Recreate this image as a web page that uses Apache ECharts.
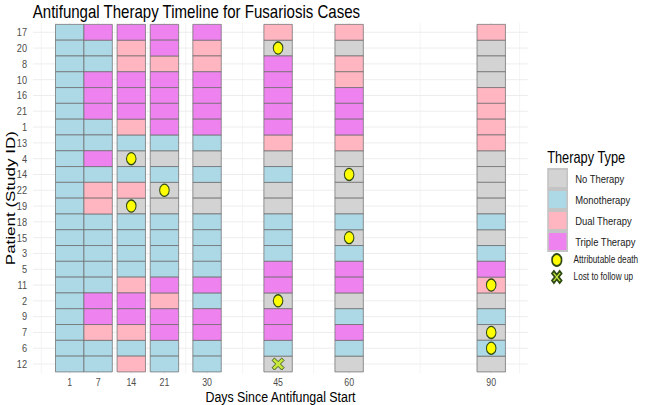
<!DOCTYPE html>
<html>
<head>
<meta charset="utf-8">
<script src="https://cdn.jsdelivr.net/npm/echarts@6/dist/echarts.min.js"></script>
<style>
  html, body { margin: 0; padding: 0; background: #fff; overflow: hidden; }
  /* the reference image is squeezed horizontally, so draw wider and squeeze */
  #chart { width: 812.5px; height: 405px; transform: scaleX(0.8); transform-origin: 0 0; }
</style>
</head>
<body>
<div id="chart"></div>
<script>
// patients, top to bottom
var patients = ['17','20','8','10','16','21','1','13','4','14','22','19','18','15','3','5','11','2','9','7','6','12'];
var days = [1, 7, 14, 21, 30, 45, 60, 90];
var therapyTypes = ['No Therapy', 'Monotherapy', 'Dual Therapy', 'Triple Therapy'];
var therapyCodes = ['N', 'M', 'D', 'T'];
var therapyColors = ['#D3D3D3', '#ADD8E6', '#FFB6C1', '#EE82EE'];

// one code per patient (same order as patients)
var day1  = 'M M M M M M M M M M M M M M M M M M M M M M'.split(' ');
var day7  = 'T M M T T T M M T M D D M M M M M T T D M M'.split(' ');
var day14 = 'T D D T T T D M N M D N M M M M D T T D M D'.split(' ');
var day21 = 'T T D T T T T M N M N N M M M M T D T T M M'.split(' ');
var day30 = 'T D D T T T T M N M N N M M M M T M T T M M'.split(' ');
var day45 = 'D N T T T T T D N M N N M M M T T N T T M N'.split(' ');
var day60 = 'D N D D T T T D N N N N M N M T T N M T M N'.split(' ');
var day90 = 'D N N N D D D D N N N N M N M T D N M N M N'.split(' ');
var therapyByDay = [day1, day7, day14, day21, day30, day45, day60, day90];

// events: [day, patient]
var deaths = [[14,'4'], [21,'22'], [14,'19'], [45,'20'], [60,'14'], [60,'15'], [45,'2'], [90,'11'], [90,'7'], [90,'6']];
var lost = [[45,'12']];

var tileHalf = 3;
var xMin = -6.75, xMax = 97.75;
var yMin = -0.6, yMax = 21.6;

// minor breaks like ggplot: midpoints, with one extra step at each end
var ext = [days[0] - (days[1] - days[0])].concat(days, [days[days.length-1] + (days[1] - days[0])]);
var minorBreaks = [];
for (var i = 0; i < ext.length; i++) {
    minorBreaks.push(ext[i]);
    if (i < ext.length - 1) minorBreaks.push((ext[i] + ext[i+1]) / 2);
}

var myChart = echarts.init(document.getElementById('chart'), null, { renderer: 'svg' });

function renderTile(params, api) {
    var x = api.value(0), y = api.value(1);
    var p0 = api.coord([x - tileHalf, y - 0.5]);
    var p1 = api.coord([x + tileHalf, y + 0.5]);
    return {
        type: 'rect',
        shape: {
            x: Math.min(p0[0], p1[0]), y: Math.min(p0[1], p1[1]),
            width: Math.abs(p1[0] - p0[0]), height: Math.abs(p1[1] - p0[1])
        },
        style: { fill: api.visual('color'), stroke: '#6b6b6b', lineWidth: 0.8 }
    };
}

function renderGrid(params, api) {
    var kids = [];
    minorBreaks.forEach(function (v) {
        if (v < xMin || v > xMax) return;
        var a = api.coord([v, yMin]), b = api.coord([v, yMax]);
        kids.push({ type: 'line', shape: { x1: a[0], y1: a[1], x2: b[0], y2: b[1] },
            style: { stroke: '#EFEFEF', lineWidth: 0.8 } });
    });
    days.forEach(function (v) {
        var a = api.coord([v, yMin]), b = api.coord([v, yMax]);
        kids.push({ type: 'line', shape: { x1: a[0], y1: a[1], x2: b[0], y2: b[1] },
            style: { stroke: '#EBEBEB', lineWidth: 1.2 } });
    });
    patients.forEach(function (p, i) {
        var a = api.coord([xMin, i]), b = api.coord([xMax, i]);
        kids.push({ type: 'line', shape: { x1: a[0], y1: a[1], x2: b[0], y2: b[1] },
            style: { stroke: '#EBEBEB', lineWidth: 1 } });
    });
    return { type: 'group', children: kids };
}

var series = [{
    type: 'custom',
    name: 'grid',
    renderItem: renderGrid,
    data: [[0, 0]],
    silent: true,
    z: 1
}];

therapyTypes.forEach(function (name, k) {
    var data = [];
    therapyByDay.forEach(function (col, d) {
        col.forEach(function (code, i) {
            if (code === therapyCodes[k]) data.push([days[d], i]);
        });
    });
    series.push({
        type: 'custom',
        name: name,
        renderItem: renderTile,
        itemStyle: { color: therapyColors[k], borderColor: '#c4c4c4', borderWidth: 0.5 },
        data: data,
        z: 2
    });
});

series.push({
    type: 'scatter',
    name: 'Attributable death',
    symbol: 'circle',
    symbolSize: 12,
    itemStyle: { color: '#FFFF00', borderColor: '#2f4a14', borderWidth: 1.3, opacity: 1 },
    data: deaths.map(function (e) { return [e[0], patients.indexOf(e[1])]; }),
    z: 3
});
series.push({
    type: 'scatter',
    name: 'Lost to follow up',
    symbol: 'path://M2,0 L5,3 L8,0 L10,2 L7,5 L10,8 L8,10 L5,7 L2,10 L0,8 L3,5 L0,2 Z',
    symbolSize: [15, 12],
    itemStyle: { color: '#C8E83C', borderColor: '#2f4a14', borderWidth: 1, opacity: 1 },
    data: lost.map(function (e) { return [e[0], patients.indexOf(e[1])]; }),
    z: 3
});

var option = {
    animation: false,
    textStyle: { fontFamily: 'Liberation Sans, Arial, sans-serif' },
    title: [{
        text: 'Antifungal Therapy Timeline for Fusariosis Cases',
        left: 41, top: 2, padding: 0,
        textStyle: { fontSize: 18.8, fontWeight: 'normal', color: '#000' }
    }, {
        text: 'Therapy Type',
        left: 684, top: 149, padding: 0,
        textStyle: { fontSize: 16, fontWeight: 'normal', color: '#000' }
    }],
    grid: { left: 41.25, right: 153.1, top: 22.8, height: 350.7, outerBoundsMode: 'none' },
    xAxis: {
        type: 'value',
        min: xMin, max: xMax,
        axisLine: { show: false },
        axisTick: { show: false },
        splitLine: { show: false },
        axisLabel: { customValues: days, color: '#4D4D4D', fontSize: 11, lineHeight: 11, margin: 3.5 },
        name: 'Days Since Antifungal Start',
        nameLocation: 'middle',
        nameMoveOverlap: false,
        nameGap: 15,
        nameTextStyle: { fontSize: 15.5, lineHeight: 15.5, color: '#000' }
    },
    yAxis: {
        type: 'value',
        inverse: true,
        min: yMin, max: yMax,
        axisLine: { show: false },
        axisTick: { show: false },
        splitLine: { show: false },
        axisLabel: {
            customValues: patients.map(function (p, i) { return i; }),
            formatter: function (v) { return patients[Math.round(v)]; },
            color: '#4D4D4D', fontSize: 11.5, margin: 7.5
        },
        name: 'Patient (Study ID)',
        nameLocation: 'middle',
        nameMoveOverlap: false,
        nameGap: 20,
        nameTextStyle: { fontSize: 17, color: '#000' }
    },
    legend: [{
        data: therapyTypes,
        orient: 'vertical',
        left: 684, top: 168, padding: 0,
        icon: 'rect',
        itemWidth: 24, itemHeight: 19,
        itemGap: 0,
        textStyle: { fontSize: 11.8, color: '#1a1a1a', padding: [0, 0, 0, 5] },
        selectedMode: false
    }, {
        data: ['Attributable death', 'Lost to follow up'],
        orient: 'vertical',
        left: 689, top: 253, padding: 0,
        itemWidth: 12, itemHeight: 12,
        itemGap: 3,
        textStyle: { fontSize: 10.3, color: '#1a1a1a', padding: [0, 0, 0, 10] },
        selectedMode: false
    }],
    series: series
};

myChart.setOption(option);
</script>
</body>
</html>
